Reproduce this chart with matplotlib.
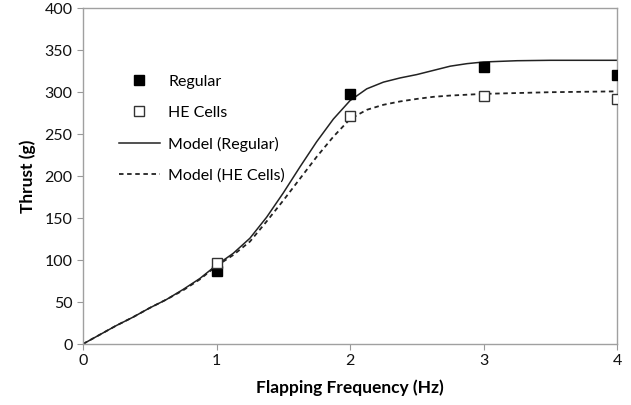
import matplotlib.pyplot as plt

plt.rcParams['font.family'] = ['Lato', 'DejaVu Sans']

# measured points
freq = [1, 2, 3, 4]
thrust_regular = [87, 298, 330, 320]
thrust_he = [96, 272, 296, 292]

# model curves
model_freq = [0, 0.125, 0.25, 0.375, 0.5, 0.625, 0.75, 0.875, 1, 1.125, 1.25, 1.375,
              1.5, 1.625, 1.75, 1.875, 2, 2.125, 2.25, 2.375, 2.5, 2.625, 2.75, 2.875,
              3, 3.25, 3.5, 4]
model_regular = [0, 11, 22, 32, 43, 53, 65, 78, 94, 108, 126, 151,
                 180, 211, 241, 268, 290, 304, 312, 317, 321, 326, 331, 334,
                 336, 337.5, 338, 338]
model_he = [0, 11, 22, 32, 43, 53, 64, 77, 93, 106, 122, 146,
            171, 197, 223, 247, 268, 279, 285, 289, 292, 294.5, 296, 297,
            298, 299, 300, 301]

fig = plt.figure(figsize=(6.31, 4.05), dpi=100)
ax = fig.add_axes([0.1315, 0.1506, 0.8465, 0.829])

ax.plot(freq, thrust_regular, 's', color='black', markersize=7.5, label='Regular', zorder=4)
ax.plot(freq, thrust_he, 's', markerfacecolor='white', markeredgecolor='#333333',
        markeredgewidth=1.0, markersize=7.5, label='HE Cells', zorder=4)
ax.plot(model_freq, model_regular, '-', color='#222222', lw=1.1, label='Model (Regular)')
ax.plot(model_freq, model_he, color='#222222', lw=1.3, linestyle=(0, (2.5, 2)),
        label='Model (HE Cells)')

ax.set_xlim(0, 4)
ax.set_ylim(0, 400)
ax.set_xticks([0, 1, 2, 3, 4])
ax.set_yticks(range(0, 401, 50))
ax.tick_params(axis='both', labelsize=11.5, color='#999999', length=4, direction='out',
               labelcolor='#111111')
for s in ax.spines.values():
    s.set_color('#a0a0a0')
    s.set_linewidth(1.0)

ax.set_xlabel('Flapping Frequency (Hz)', fontsize=12.5, fontweight='bold', labelpad=8)
ax.set_ylabel('Thrust (g)', fontsize=12.5, fontweight='bold', labelpad=6)

leg = ax.legend(loc='upper left', bbox_to_anchor=(0.04, 0.845), frameon=False,
                fontsize=11.5, labelspacing=1.05, handlelength=2.6, handletextpad=0.5)

fig.savefig('out.png', dpi=100)
